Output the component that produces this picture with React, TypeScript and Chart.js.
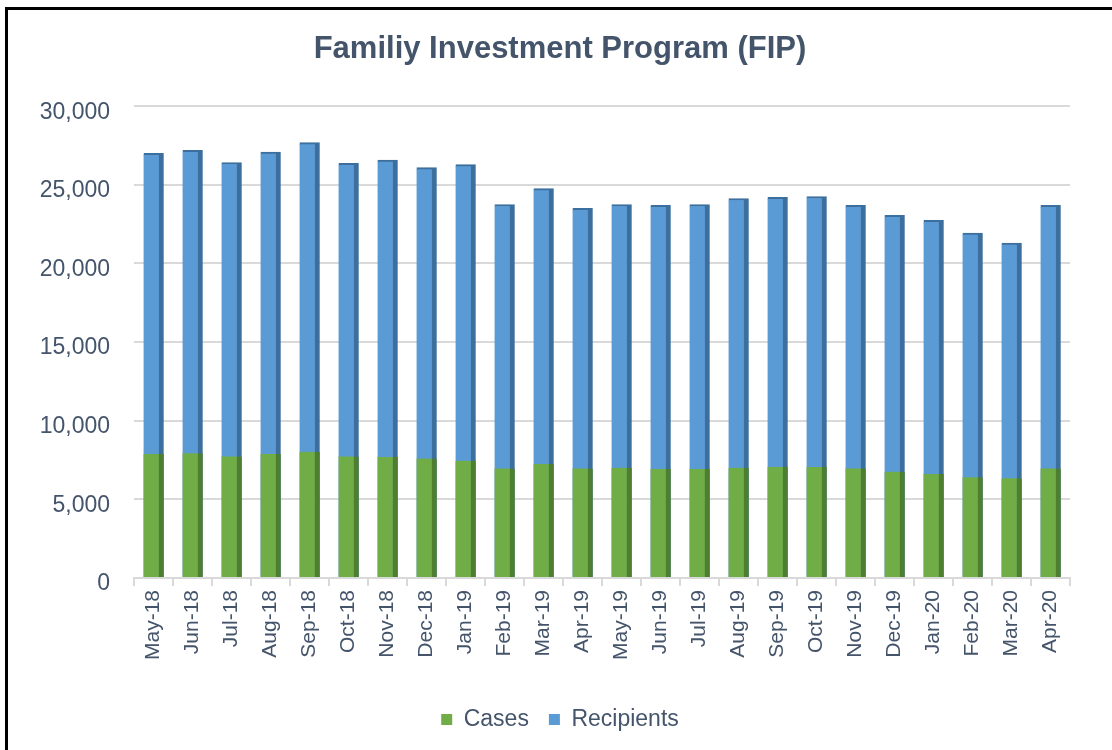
import React, { useEffect, useRef } from "react";
import { Chart, registerables } from "chart.js";

Chart.register(...registerables);

const titleText = "Familiy Investment Program (FIP)";
const months = [
  "May-18", "Jun-18", "Jul-18", "Aug-18", "Sep-18", "Oct-18", "Nov-18", "Dec-18",
  "Jan-19", "Feb-19", "Mar-19", "Apr-19", "May-19", "Jun-19", "Jul-19", "Aug-19",
  "Sep-19", "Oct-19", "Nov-19", "Dec-19", "Jan-20", "Feb-20", "Mar-20", "Apr-20",
];
const cases = [
  7880, 7940, 7730, 7880, 8020, 7730, 7690, 7600,
  7450, 6970, 7250, 6970, 7010, 6930, 6930, 7010,
  7060, 7060, 6970, 6760, 6620, 6410, 6350, 6970,
];
const recipients = [
  27000, 27200, 26420, 27090, 27680, 26360, 26570, 26090,
  26280, 23750, 24760, 23500, 23750, 23690, 23750, 24130,
  24200, 24260, 23690, 23060, 22750, 21930, 21300, 23690,
];
const yMin = 0;
const yMax = 30000;
const yStep = 5000;

const FONT = "'Liberation Sans', Arial, sans-serif";
const TEXT_COLOR = "#44546A";

export default function App() {
  const canvasRef = useRef<HTMLCanvasElement | null>(null);

  useEffect(() => {
    if (!canvasRef.current) return;
    const chart = new Chart(canvasRef.current, {
      type: "bar",
      data: {
        labels: months,
        datasets: [
          {
            label: "Cases",
            data: cases,
            backgroundColor: "#70AD47",
            borderColor: "#4E7F30",
            borderWidth: { top: 0, right: 5, bottom: 0, left: 0 },
            borderSkipped: false,
            grouped: false,
            barThickness: 20,
          },
          {
            label: "Recipients",
            data: recipients,
            backgroundColor: "#5B9BD5",
            borderColor: "#3C6E9E",
            borderWidth: { top: 2, right: 5, bottom: 0, left: 0 },
            borderSkipped: false,
            grouped: false,
            barThickness: 20,
          },
        ],
      },
      options: {
        animation: false,
        responsive: true,
        maintainAspectRatio: false,
        layout: { padding: { left: 0, right: 0, top: 0, bottom: 9 } },
        plugins: {
          title: {
            display: true,
            text: titleText,
            color: TEXT_COLOR,
            font: { family: FONT, size: 31, weight: "bold" },
            padding: { top: 21, bottom: 38 },
          },
          legend: {
            position: "bottom",
            labels: {
              color: TEXT_COLOR,
              font: { family: FONT, size: 23 },
              boxWidth: 11,
              boxHeight: 11,
              padding: 20,
              generateLabels: (ch: any) =>
                ch.data.datasets.map((ds: any, i: number) => ({
                  text: ds.label,
                  fillStyle: ds.backgroundColor,
                  strokeStyle: ds.backgroundColor,
                  lineWidth: 0,
                  hidden: false,
                  datasetIndex: i,
                  fontColor: TEXT_COLOR,
                })),
            },
          },
          tooltip: { enabled: false },
        },
        scales: {
          x: {
            grid: {
              drawOnChartArea: false,
              drawTicks: true,
              tickLength: 8,
              color: "#D9D9D9",
              lineWidth: 2,
            },
            border: { display: true, color: "#D9D9D9", width: 2 },
            ticks: {
              color: TEXT_COLOR,
              font: { family: FONT, size: 21 },
              minRotation: 90,
              maxRotation: 90,
              padding: 4,
              autoSkip: false,
            },
            afterFit: (scale: any) => {
              scale.height = 110;
            },
          },
          y: {
            min: yMin,
            max: yMax,
            grid: { color: "#D9D9D9", lineWidth: 2, drawTicks: false },
            border: { display: false },
            ticks: {
              stepSize: yStep,
              color: TEXT_COLOR,
              font: { family: FONT, size: 23 },
              padding: 24,
              labelOffset: 6,
              callback: (v: any) => Number(v).toLocaleString("en-US"),
            },
            afterFit: (scale: any) => {
              scale.width = 126;
            },
          },
          yRight: {
            position: "right",
            display: true,
            grid: { display: false, drawTicks: false },
            border: { display: false },
            ticks: { display: false },
            afterFit: (scale: any) => {
              scale.width = 42;
            },
          },
        },
      },
    });
    return () => chart.destroy();
  }, []);

  return (
    <div style={{ position: "fixed", left: 0, top: 0, width: 1112, height: 750, background: "#fff", overflow: "hidden" }}>
      <div
        style={{
          position: "absolute",
          left: 5,
          top: 7,
          width: 1200,
          height: 800,
          borderTop: "3px solid #000",
          borderLeft: "3px solid #000",
        }}
      />
      <div style={{ position: "absolute", left: 8, top: 10, width: 1104, height: 740 }}>
        <canvas ref={canvasRef} />
      </div>
    </div>
  );
}
